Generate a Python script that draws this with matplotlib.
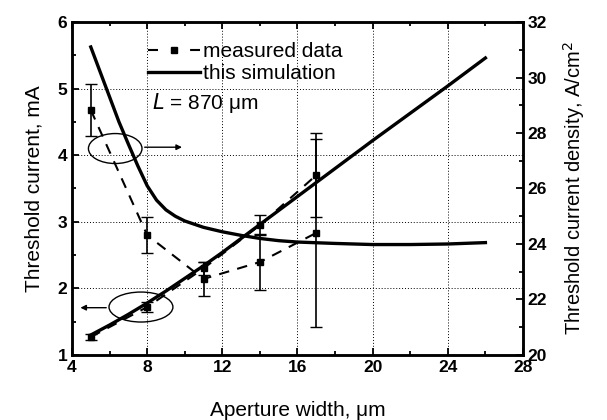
import matplotlib.pyplot as plt
from matplotlib.patches import Ellipse
from matplotlib.ticker import MultipleLocator

plt.rcParams['font.family'] = ['Liberation Sans', 'DejaVu Sans']

# measured data
width_meas = [5, 8, 11, 14, 17]
current_meas = [1.27, 1.72, 2.30, 2.95, 3.70]
current_err = [0.04, 0.08, 0.10, 0.15, 0.63]
density_meas = [28.83, 24.32, 22.74, 23.35, 24.40]
density_err = [0.95, 0.65, 0.60, 1.00, 3.40]

# simulation
width_sim = [5, 6, 7, 8, 9, 10, 11, 12, 14, 16, 18, 20, 22, 24, 26]
current_sim = [1.30, 1.45, 1.61, 1.78, 1.96, 2.15, 2.34, 2.54, 2.96, 3.38, 3.80, 4.22, 4.63, 5.04, 5.46]
width_sim_d = [5, 5.5, 6, 6.5, 7, 7.5, 8, 8.5, 9, 9.5, 10, 11, 12, 13, 14, 15, 16,
               18, 20, 22, 24, 26]
density_sim = [31.1, 30.2, 29.3, 28.4, 27.6, 26.82, 26.1, 25.58, 25.23, 25.0, 24.83,
               24.6, 24.44, 24.31, 24.2, 24.12, 24.07, 24.02, 23.98, 23.98, 24.0, 24.05]

fig = plt.figure(figsize=(6.07, 4.20), dpi=100)
ax = fig.add_axes([0.1186, 0.1548, 0.743, 0.7928])
ax2 = ax.twinx()

ax.errorbar(width_meas, current_meas, yerr=current_err, color='black', ls='--',
            marker='s', ms=5, lw=1.5, capsize=4, elinewidth=1.2, dashes=(5, 4))
ax.plot(width_sim, current_sim, color='black', lw=2.4, solid_joinstyle='round')
ax2.errorbar(width_meas, density_meas, yerr=density_err, color='black', ls='--',
             marker='s', ms=5, lw=1.5, capsize=4, elinewidth=1.2, dashes=(5, 4))
ax2.plot(width_sim_d, density_sim, color='black', lw=2.4, solid_joinstyle='round')

ax.set_xlim(4, 28)
ax.set_ylim(1, 6)
ax2.set_ylim(20, 32)
ax.xaxis.set_major_locator(MultipleLocator(4))
ax.xaxis.set_minor_locator(MultipleLocator(2))
ax.yaxis.set_major_locator(MultipleLocator(1))
ax.yaxis.set_minor_locator(MultipleLocator(0.5))
ax2.yaxis.set_major_locator(MultipleLocator(2))
ax2.yaxis.set_minor_locator(MultipleLocator(1))

ax.grid(True, which='major', color='black', ls=(0, (1, 2)), lw=0.7)
for a in (ax, ax2):
    a.tick_params(which='both', direction='in', labelsize=12.5, width=1.3)
    a.tick_params(which='major', length=5)
    a.tick_params(which='minor', length=3)
    for lab in a.get_xticklabels() + a.get_yticklabels():
        lab.set_fontweight('bold')
    for s in a.spines.values():
        s.set_linewidth(1.8)
ax.tick_params(which='both', top=True)

ax.set_xlabel('Aperture width, μm', fontsize=15, labelpad=19)
ax.set_ylabel('Threshold current, mA', fontsize=15, labelpad=10)
ax2.set_ylabel('Threshold current density, A/cm$^2$', fontsize=14.5, labelpad=10)

# ellipses with arrows pointing to the matching axis
ax.add_patch(Ellipse((6.3, 4.1), 2.85, 0.45, fill=False, color='black', lw=1))
ax.annotate('', xy=(10.0, 4.12), xytext=(7.72, 4.12),
            arrowprops=dict(arrowstyle='-|>', color='black', lw=1, mutation_scale=8))
ax.add_patch(Ellipse((7.67, 1.72), 3.4, 0.45, fill=False, color='black', lw=1))
ax.annotate('', xy=(4.3, 1.71), xytext=(5.97, 1.71),
            arrowprops=dict(arrowstyle='-|>', color='black', lw=1, mutation_scale=8))

h1, = ax.plot([], [], color='black', ls='--', marker='s', ms=5, lw=1.5, dashes=(4.8, 15.4))
h2, = ax.plot([], [], color='black', lw=2.4)
ax.legend([h1, h2], ['measured data', 'this simulation'], loc='upper left',
          bbox_to_anchor=(0.168, 0.94), frameon=False, fontsize=15,
          handlelength=2.5, handletextpad=0.15, labelspacing=0.15,
          borderpad=0, borderaxespad=0)
ax.text(8.25, 4.78, '$L$ = 870 μm', fontsize=15, va='center')

fig.savefig('out.png', dpi=100)
